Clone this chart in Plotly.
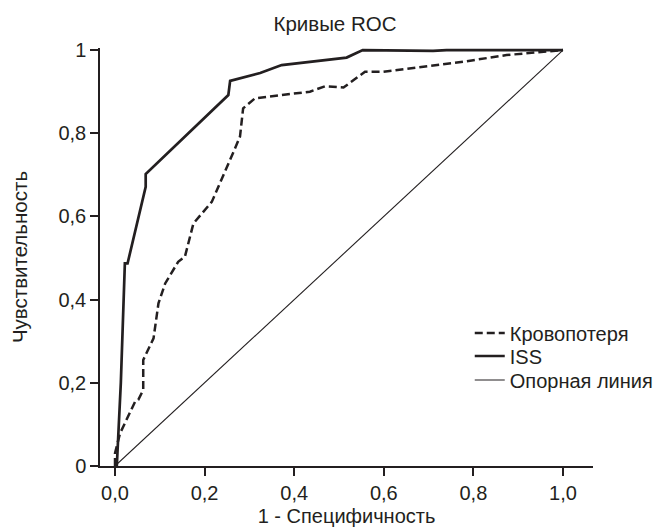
import plotly.graph_objects as go

# ISS ROC curve
iss_fpr = [0, 0.004, 0.013, 0.022, 0.028, 0.0685, 0.0685, 0.253, 0.257, 0.324, 0.372, 0.517, 0.553, 0.71, 0.74, 1.0]
iss_tpr = [0, 0.0, 0.2, 0.487, 0.487, 0.671, 0.702, 0.892, 0.926, 0.945, 0.964, 0.982, 1.0, 0.998, 1.0, 1.0]

# Blood loss ROC curve
bl_fpr = [0, 0, 0.011, 0.045, 0.052, 0.063, 0.063, 0.086, 0.097, 0.112, 0.141, 0.156, 0.175, 0.216,
          0.268, 0.279, 0.286, 0.3125, 0.435, 0.469, 0.51, 0.558, 0.599, 0.777, 0.874, 1.0]
bl_tpr = [0, 0.031, 0.078, 0.155, 0.159, 0.183, 0.255, 0.307, 0.391, 0.439, 0.491, 0.503, 0.583, 0.635,
          0.764, 0.792, 0.86, 0.884, 0.90, 0.913, 0.910, 0.948, 0.948, 0.972, 0.988, 1.0]

# Reference line
ref_x = [0, 1]
ref_y = [0, 1]

x_ticks = [0, 0.2, 0.4, 0.6, 0.8, 1.0]
x_ticktext = ["0,0", "0,2", "0,4", "0,6", "0,8", "1,0"]
y_ticks = [0, 0.2, 0.4, 0.6, 0.8, 1.0]
y_ticktext = ["0", "0,2", "0,4", "0,6", "0,8", "1"]

INK = "#231f20"
FONT = "Liberation Sans, Arial, sans-serif"

# page offset of the figure (browser body margin)
OFF = 8
W, H = 664 - OFF, 527 - OFF
L, R, T, B = 92, 71, 40, 61
plot_h = H - T - B


def legend_y(page_y):
    # paper y for a page-pixel y
    return 1 - (page_y - OFF - T) / plot_h


fig = go.Figure()
fig.add_trace(go.Scatter(x=bl_fpr, y=bl_tpr, mode="lines", name="Кровопотеря", legend="legend",
                         line=dict(color=INK, width=2.5, dash="8px,4px")))
fig.add_trace(go.Scatter(x=iss_fpr, y=iss_tpr, mode="lines", name="ISS", legend="legend2",
                         line=dict(color=INK, width=2.7)))
fig.add_trace(go.Scatter(x=ref_x, y=ref_y, mode="lines", name="Опорная линия", legend="legend3",
                         line=dict(color=INK, width=1.1)))

leg_common = dict(x=0.75, xanchor="left", yanchor="middle", bgcolor="rgba(0,0,0,0)",
                  font=dict(size=20, color=INK), itemwidth=30)

fig.update_layout(
    width=W, height=H,
    margin=dict(l=L, r=R, t=T, b=B, autoexpand=False),
    paper_bgcolor="white", plot_bgcolor="white",
    font=dict(family=FONT, size=20, color=INK),
    title=dict(text="Кривые ROC", font=dict(size=20.5, color=INK),
               x=(335 - OFF) / W, xanchor="center", xref="container",
               y=1 - (24 - OFF) / H, yanchor="middle", yref="container"),
    showlegend=True,
    legend=dict(y=legend_y(333), **leg_common),
    legend2=dict(y=legend_y(356), **leg_common),
    legend3=dict(y=legend_y(380), **leg_common),
    xaxis=dict(range=[-0.0335, 1.067], showgrid=False, zeroline=False,
               showline=True, linecolor=INK, linewidth=1.5, automargin=False,
               ticks="outside", ticklen=8, tickwidth=1.5, tickcolor=INK,
               tickvals=x_ticks, ticktext=x_ticktext,
               title=dict(text="1 - Специфичность", standoff=6, font=dict(size=20))),
    yaxis=dict(range=[0, 1.005], showgrid=False, zeroline=False,
               showline=True, linecolor=INK, linewidth=1.5, automargin=False,
               ticks="outside", ticklen=8, tickwidth=1.5, tickcolor=INK,
               tickvals=y_ticks, ticktext=y_ticktext,
               title=dict(text="Чувствительность", standoff=26, font=dict(size=20.5))),
)

fig.write_html("out.html")
